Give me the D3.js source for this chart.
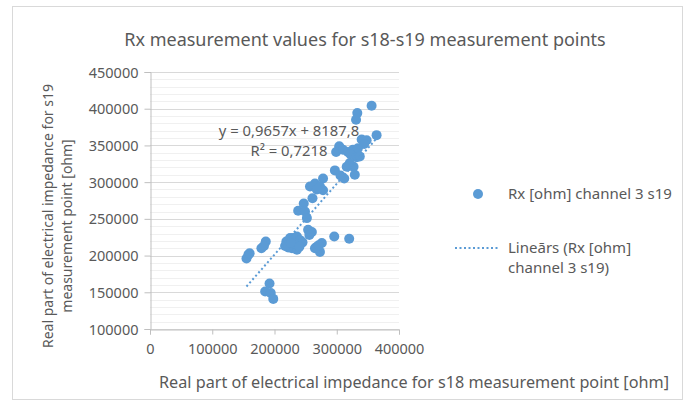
<!DOCTYPE html>
<html>
<head>
<meta charset="utf-8">
<script src="https://d3js.org/d3.v7.min.js"></script>
<style>
body {margin: 0; background: #fff;}
text {font-family: "Noto Sans", "Open Sans", sans-serif; fill: #595959;}
</style>
</head>
<body>
<svg id="chart" width="691" height="407"></svg>
<script>
// s18 (x) and s19 (y) Rx values
var s18 = [356000, 333000, 331000, 364000, 340000, 348000, 344000, 304000, 299000, 310000,
           318000, 326000, 334000, 322000, 332000, 337000, 321000, 316000, 327000, 297000,
           312000, 306000, 329000, 278000, 265000, 257000, 273000, 278000, 268000, 261000,
           247000, 238000, 249000, 252000, 254000, 260000, 256000, 219000, 225000, 230000,
           236000, 241000, 245000, 228000, 236000, 222000, 217000, 232000, 240000, 226000,
           268000, 276000, 273000, 265000, 271000, 296000, 320000, 158000, 155000, 160000,
           179000, 186000, 183000, 192000, 185000, 194000, 198000];
var s19 = [404000, 394000, 385000, 364000, 358000, 357000, 352000, 349000, 341000, 344000,
           341000, 344000, 346000, 338000, 334000, 335000, 326000, 321000, 321000, 316000,
           305000, 309000, 310000, 305000, 298000, 294000, 294000, 289000, 290000, 278000,
           271000, 261000, 260000, 251000, 235000, 232000, 228000, 219000, 224000, 224000,
           226000, 221000, 218000, 210000, 208000, 211000, 213000, 216000, 212000, 217000,
           212000, 217000, 205000, 210000, 214000, 226000, 223000, 201000, 196000, 203000,
           210000, 219000, 213000, 162000, 151000, 149000, 141000];

var xTicks = [0, 100000, 200000, 300000, 400000];
var yTicks = [100000, 150000, 200000, 250000, 300000, 350000, 400000, 450000];

// trendline label values
var slope = 0.9657, intercept = 8187.8, rSquared = "0,7218";

var title = "Rx measurement values for s18-s19 measurement points";
var xTitle = "Real part of electrical impedance for s18 measurement point [ohm]";
var yTitle = ["Real part of electrical impedance for s19", "measurement point [ohm]"];
var seriesName = "Rx [ohm] channel 3 s19";
var trendName = ["Lineārs (Rx [ohm]", "channel 3 s19)"];

var blue = "#5b9bd5";
var svg = d3.select("#chart");

// outer border
svg.append("rect").attr("x", 12.5).attr("y", 6.5).attr("width", 670).attr("height", 393)
    .attr("fill", "#fff").attr("stroke", "#d9d9d9");

var x = d3.scaleLinear().domain([0, 400000]).range([150, 399]);
var y = d3.scaleLinear().domain([100000, 450000]).range([329, 72]);

// gridlines
var minor = d3.range(100000, 450001, 10000);
svg.append("g").selectAll("line").data(minor).enter().append("line")
    .attr("x1", x(0)).attr("x2", x(400000))
    .attr("y1", function(d) {return Math.round(y(d)) + 0.5;})
    .attr("y2", function(d) {return Math.round(y(d)) + 0.5;})
    .attr("stroke", function(d) {return d % 50000 == 0 ? "#d9d9d9" : "#f0f0f0";});

// axes
var yAxis = svg.append("g").attr("transform", "translate(150.5,0)")
    .call(d3.axisLeft(y).tickValues(yTicks).tickSize(6).tickPadding(6).tickFormat(d3.format("d")));
var xAxis = svg.append("g").attr("transform", "translate(0,329.5)")
    .call(d3.axisBottom(x).tickValues(xTicks).tickSize(5).tickPadding(9).tickFormat(d3.format("d")));
[xAxis, yAxis].forEach(function(a) {
    a.select(".domain").attr("stroke", "#bfbfbf");
    a.selectAll(".tick line").attr("stroke", "#bfbfbf");
    a.selectAll(".tick text").style("font-size", "14.5px").attr("fill", "#595959")
        .style("font-family", "'Noto Sans', sans-serif");
});
yAxis.selectAll(".tick text").attr("dy", "0.35em");

// points
svg.append("g").selectAll("circle").data(s18).enter().append("circle")
    .attr("cx", function(d) {return x(d);})
    .attr("cy", function(d, i) {return y(s19[i]);})
    .attr("r", 5)
    .attr("fill", blue);

// linear trendline
var x0 = d3.min(s18), x1 = d3.max(s18);
svg.append("line")
    .attr("x1", x(x0)).attr("y1", y(slope * x0 + intercept))
    .attr("x2", x(x1)).attr("y2", y(slope * x1 + intercept))
    .attr("stroke", blue).attr("stroke-width", 2)
    .attr("stroke-dasharray", "2,2.5");

// equation label
svg.append("text").attr("x", 289).attr("y", 136).attr("text-anchor", "middle")
    .style("font-size", "14.8px")
    .text("y = " + d3.format(".4f")(slope).replace(".", ",") + "x + " + String(intercept).replace(".", ","));
svg.append("text").attr("x", 289).attr("y", 156).attr("text-anchor", "middle")
    .style("font-size", "14.8px")
    .text("R² = " + rSquared);

// title
svg.append("text").attr("x", 365).attr("y", 46).attr("text-anchor", "middle")
    .style("font-size", "18px").text(title);

// axis titles
svg.append("text").attr("x", 414).attr("y", 388).attr("text-anchor", "middle")
    .style("font-size", "16.2px").text(xTitle);
svg.append("text").attr("transform", "translate(53,216) rotate(-90)").attr("text-anchor", "middle")
    .style("font-size", "14px").text(yTitle[0]);
svg.append("text").attr("transform", "translate(72,226) rotate(-90)").attr("text-anchor", "middle")
    .style("font-size", "14px").text(yTitle[1]);

// legend
svg.append("circle").attr("cx", 478).attr("cy", 194).attr("r", 5).attr("fill", blue);
svg.append("text").attr("x", 508).attr("y", 199).style("font-size", "15px").text(seriesName);
svg.append("line").attr("x1", 455).attr("x2", 500).attr("y1", 248).attr("y2", 248)
    .attr("stroke", blue).attr("stroke-width", 2).attr("stroke-dasharray", "2,2.5");
svg.append("text").attr("x", 508).attr("y", 253).style("font-size", "15px").text(trendName[0]);
svg.append("text").attr("x", 508).attr("y", 273).style("font-size", "15px").text(trendName[1]);
</script>
</body>
</html>
